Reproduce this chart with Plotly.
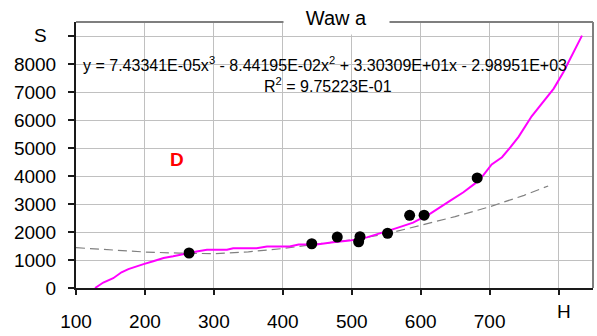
import plotly.graph_objects as go

# Measured samples: height H against discharge S
obs_h = [264, 442, 479, 512, 510, 552, 584, 605, 682]
obs_s = [1250, 1580, 1820, 1830, 1650, 1955, 2595, 2600, 3930]

# Cubic trend curve (tabulated)
fit_h = [127.6, 139.6, 154, 166, 176, 188, 198, 212, 227, 241, 258, 275, 290, 319,
         328, 362, 377, 410, 423, 449, 473, 497, 522, 546, 565, 589, 614, 643,
         662, 679, 691, 703, 718, 730, 742, 761, 778, 793, 807, 819, 834]
fit_s = [0, 196, 350, 561, 676, 757, 851, 957, 1073, 1132, 1226, 1307, 1366, 1366,
         1423, 1423, 1482, 1482, 1552, 1552, 1633, 1692, 1808, 1983, 2137, 2334, 2660, 3120,
         3420, 3735, 4029, 4415, 4671, 5021, 5400, 6132, 6657, 7123, 7708, 8290, 9015]

# Reference curve (dashed)
ref_h = [100, 150, 200, 250, 300, 350, 400, 450, 500, 550, 600, 650, 700, 750, 785]
ref_s = [1440, 1370, 1285, 1245, 1225, 1290, 1410, 1570, 1720, 1930, 2230, 2550, 2900, 3310, 3644]

x_ticks = [100, 200, 300, 400, 500, 600, 700]
x_extra = [800]          # tick + grid, named by the "H" label
y_ticks = [0, 1000, 2000, 3000, 4000, 5000, 6000, 7000, 8000]
y_extra = [9000]         # tick + grid, named by the "S" label

title_text = "Waw a"
equation = ("y = 7.43341E-05x<sup>3</sup> - 8.44195E-02x<sup>2</sup> "
            "+ 3.30309E+01x - 2.98951E+03")
r2_text = "R<sup>2</sup> = 9.75223E-01"

FONT = "Liberation Sans, Arial, sans-serif"
GRID = "#c0c0c0"
INK = "#1a1a1a"

fig = go.Figure()
fig.add_trace(go.Scatter(x=ref_h, y=ref_s, mode="lines",
                         line=dict(color="#808080", width=1.2, dash="9px,5px"),
                         showlegend=False))
fig.add_trace(go.Scatter(x=fit_h, y=fit_s, mode="lines",
                         line=dict(color="#ff00ff", width=2),
                         showlegend=False))
fig.add_trace(go.Scatter(x=obs_h, y=obs_s, mode="markers",
                         marker=dict(color="black", size=11),
                         showlegend=False))

axis_common = dict(
    showgrid=True, gridcolor=GRID, gridwidth=1.3,
    showline=True, linecolor=INK, linewidth=2,
    zeroline=False, ticks="outside", tickcolor=INK, tickwidth=1.5,
    tickfont=dict(family=FONT, size=19, color="black"),
)

fig.update_xaxes(range=[100, 850], tickmode="array", tickvals=x_ticks,
                 ticklen=5, ticklabelstandoff=10,
                 minor=dict(tickmode="array", tickvals=x_extra, ticks="outside",
                            ticklen=5, tickwidth=1.5, tickcolor=INK,
                            showgrid=True, gridcolor=GRID, gridwidth=1.3),
                 **axis_common)
fig.update_yaxes(range=[0, 9500], tickmode="array", tickvals=y_ticks,
                 ticklen=6, ticklabelstandoff=8,
                 minor=dict(tickmode="array", tickvals=y_extra, ticks="outside",
                            ticklen=6, tickwidth=1.5, tickcolor=INK,
                            showgrid=True, gridcolor=GRID, gridwidth=1.3),
                 **axis_common)

# Top and right frame edges
fig.add_shape(type="line", xref="paper", yref="paper", x0=0, x1=1, y0=1, y1=1,
              line=dict(color="#7f7f7f", width=2), layer="above")
fig.add_shape(type="line", xref="paper", yref="paper", x0=1, x1=1, y0=0, y1=1,
              line=dict(color="#7f7f7f", width=2), layer="above")

annotations = [
    dict(text=title_text, x=0.5039, y=1.0185, xref="paper", yref="paper",
         xanchor="center", yanchor="middle", showarrow=False,
         bgcolor="white", width=105, height=33, borderpad=0,
         font=dict(family=FONT, size=20, color="black")),
    dict(text=equation, x=0.4816, y=0.8413, xref="paper", yref="paper",
         xanchor="center", yanchor="middle", showarrow=False,
         font=dict(family=FONT, size=16, color="black")),
    dict(text=r2_text, x=0.4865, y=0.762, xref="paper", yref="paper",
         xanchor="center", yanchor="middle", showarrow=False,
         font=dict(family=FONT, size=16, color="black")),
    dict(text="D", x=0.1954, y=0.4845, xref="paper", yref="paper",
         xanchor="center", yanchor="middle", showarrow=False,
         font=dict(family=FONT, size=19, color="#ff0000", weight="bold")),
    dict(text="S", x=-0.0677, y=0.9498, xref="paper", yref="paper",
         xanchor="center", yanchor="middle", showarrow=False,
         font=dict(family=FONT, size=19, color="black")),
    dict(text="H", x=0.943, y=-0.0897, xref="paper", yref="paper",
         xanchor="center", yanchor="middle", showarrow=False,
         font=dict(family=FONT, size=19, color="black")),
]

fig.update_layout(
    width=597, height=336,
    margin=dict(l=76, r=4, t=22, b=43),
    paper_bgcolor="white", plot_bgcolor="white",
    annotations=annotations,
    showlegend=False,
)

fig.write_html("out.html")
